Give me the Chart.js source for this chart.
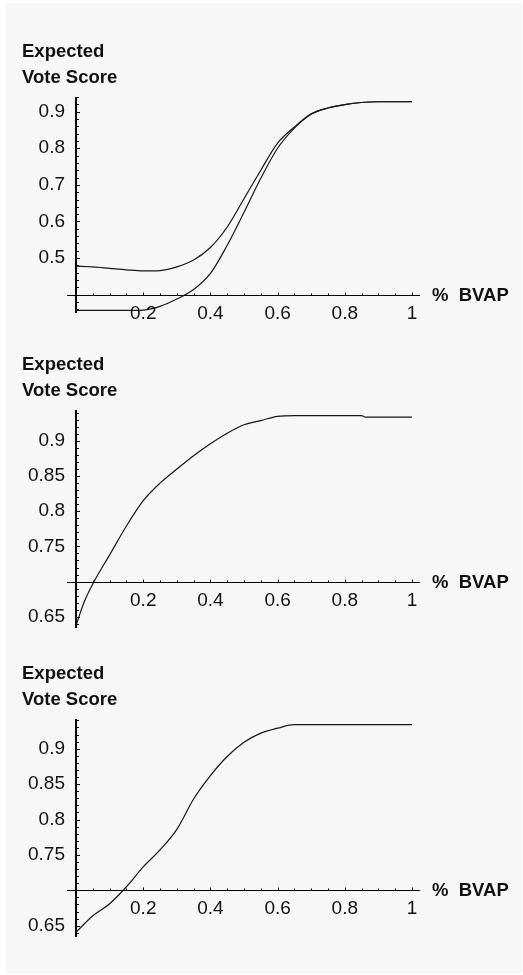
<!DOCTYPE html>
<html>
<head>
<meta charset="utf-8">
<script src="https://cdn.jsdelivr.net/npm/chart.js@4"></script>
<style>
    html, body { margin: 0; padding: 0; background: #fff; }
    #frame { position: absolute; left: 6px; top: 3px; width: 516px; height: 971px; background: #f7f7f7; }
    canvas { position: absolute; left: 0; }
</style>
</head>
<body>
<div id="frame"></div>
<canvas id="c1" width="523" height="330" style="top:0px"></canvas>
<canvas id="c2" width="523" height="320" style="top:330px"></canvas>
<canvas id="c3" width="523" height="325" style="top:650px"></canvas>
<script>
// values
const yTitle = ['Expected', 'Vote Score'];
const xTitle = '%  BVAP';
const xTickLabels = [0.2, 0.4, 0.6, 0.8, 1];

// panel 1: two curves
const bvap1 = [0, 0.05, 0.1, 0.15, 0.2, 0.25, 0.3, 0.35, 0.4, 0.45, 0.5, 0.55, 0.6, 0.65, 0.7, 0.75, 0.8, 0.85, 0.9, 0.95, 1];
const upper1 = [0.478, 0.476, 0.472, 0.468, 0.465, 0.466, 0.476, 0.495, 0.529, 0.585, 0.662, 0.740, 0.814, 0.858, 0.894, 0.910, 0.919, 0.925, 0.927, 0.927, 0.927];
const lower1 = [0.357, 0.357, 0.357, 0.357, 0.358, 0.368, 0.388, 0.414, 0.458, 0.535, 0.625, 0.718, 0.800, 0.855, 0.893, 0.910, 0.919, 0.925, 0.927, 0.927, 0.927];
const yTicks1 = [0.5, 0.6, 0.7, 0.8, 0.9];

// panel 2
const bvap2 = [0, 0.025, 0.05, 0.1, 0.15, 0.2, 0.25, 0.3, 0.35, 0.4, 0.45, 0.5, 0.55, 0.6, 0.65, 0.7, 0.75, 0.8, 0.85, 0.86, 0.9, 0.95, 1];
const score2 = [0.638, 0.672, 0.697, 0.738, 0.779, 0.815, 0.840, 0.860, 0.879, 0.896, 0.911, 0.923, 0.929, 0.935, 0.936, 0.936, 0.936, 0.936, 0.936, 0.934, 0.934, 0.934, 0.934];

// panel 3
const bvap3 = [0, 0.05, 0.1, 0.15, 0.2, 0.25, 0.3, 0.35, 0.4, 0.45, 0.5, 0.55, 0.6, 0.65, 0.7, 0.8, 0.9, 1];
const score3 = [0.641, 0.664, 0.681, 0.705, 0.733, 0.757, 0.786, 0.829, 0.862, 0.889, 0.909, 0.922, 0.929, 0.934, 0.934, 0.934, 0.934, 0.934];

const yTicks23 = [0.65, 0.75, 0.8, 0.85, 0.9];

const font = '"Liberation Sans", Arial, Helvetica, sans-serif';

// Mathematica-like axes crossing at (0, cross)
const axesPlugin = {
    id: 'mmaAxes',
    afterDatasetsDraw(chart, args, opts) {
        const { ctx } = chart;
        const x = chart.scales.x;
        const y = chart.scales.y;
        const x0 = Math.round(x.getPixelForValue(0));
        const yc = Math.round(y.getPixelForValue(opts.cross)) + 0.5;

        ctx.save();
        ctx.strokeStyle = '#000';
        ctx.lineWidth = 1;
        ctx.beginPath();
        ctx.moveTo(x.left, yc);
        ctx.lineTo(x.right, yc);

        // x ticks, minor every 0.05
        for (let i = 1; i <= 20; i++) {
            const px = Math.round(x.getPixelForValue(i * 0.05)) + 0.5;
            const len = i % 4 === 0 ? 3 : 2;
            ctx.moveTo(px, yc);
            ctx.lineTo(px, yc - len);
        }
        // y ticks
        const steps = Math.round((y.max - y.min) / opts.minorStep);
        for (let i = 0; i <= steps + 1; i++) {
            const v = Math.ceil(y.min / opts.minorStep) * opts.minorStep + i * opts.minorStep;
            if (v > y.max) break;
            const py = Math.round(y.getPixelForValue(v)) + 0.5;
            const major = opts.yTicks.some((t) => Math.abs(t - v) < 1e-6);
            ctx.moveTo(x0, py);
            ctx.lineTo(x0 + (major ? 4 : 3), py);
        }
        ctx.stroke();

        // y axis, a bit heavier
        ctx.lineWidth = 2;
        ctx.beginPath();
        ctx.moveTo(x0, y.top);
        ctx.lineTo(x0, y.bottom);
        ctx.stroke();

        ctx.fillStyle = '#111';
        ctx.font = '19px ' + font;
        ctx.textAlign = 'center';
        ctx.textBaseline = 'alphabetic';
        xTickLabels.forEach((t) => {
            ctx.fillText(String(t), x.getPixelForValue(t), yc + 23);
        });
        ctx.textAlign = 'right';
        ctx.textBaseline = 'middle';
        opts.yTicks.forEach((t) => {
            ctx.fillText(String(t), x0 - 11, y.getPixelForValue(t));
        });

        ctx.font = 'bold 18.5px ' + font;
        ctx.textAlign = 'left';
        ctx.fillText(xTitle, x.right + 12, yc);
        ctx.textBaseline = 'alphabetic';
        ctx.fillText(yTitle[0], 22, y.top - 40);
        ctx.fillText(yTitle[1], 22, y.top - 14);
        ctx.restore();
    }
};

function points(xs, ys) {
    return xs.map((v, i) => ({ x: v, y: ys[i] }));
}

function line(data) {
    return {
        data: data,
        borderColor: '#161616',
        borderWidth: 1.2,
        pointRadius: 0,
        cubicInterpolationMode: 'monotone',
        fill: false
    };
}

function makePanel(id, datasets, yMin, yMax, cross, yTicks, minorStep, pad) {
    return new Chart(document.getElementById(id), {
        type: 'line',
        data: { datasets: datasets },
        options: {
            responsive: false,
            animation: false,
            devicePixelRatio: 1,
            layout: { padding: pad },
            scales: {
                x: { type: 'linear', min: -0.027, max: 1.024, display: false },
                y: { type: 'linear', min: yMin, max: yMax, display: false }
            },
            plugins: {
                legend: { display: false },
                tooltip: { enabled: false },
                mmaAxes: { cross: cross, yTicks: yTicks, minorStep: minorStep }
            }
        },
        plugins: [axesPlugin]
    });
}

makePanel('c1',
    [line(points(bvap1, upper1)), line(points(bvap1, lower1))],
    0.35, 0.94, 0.4, yTicks1, 0.02,
    { left: 67, right: 103, top: 97, bottom: 17 });

makePanel('c2',
    [line(points(bvap2, score2))],
    0.634, 0.944, 0.7, yTicks23, 0.01,
    { left: 67, right: 103, top: 80, bottom: 22 });

makePanel('c3',
    [line(points(bvap3, score3))],
    0.634, 0.942, 0.7, yTicks23, 0.01,
    { left: 67, right: 103, top: 69, bottom: 38 });
</script>
</body>
</html>
